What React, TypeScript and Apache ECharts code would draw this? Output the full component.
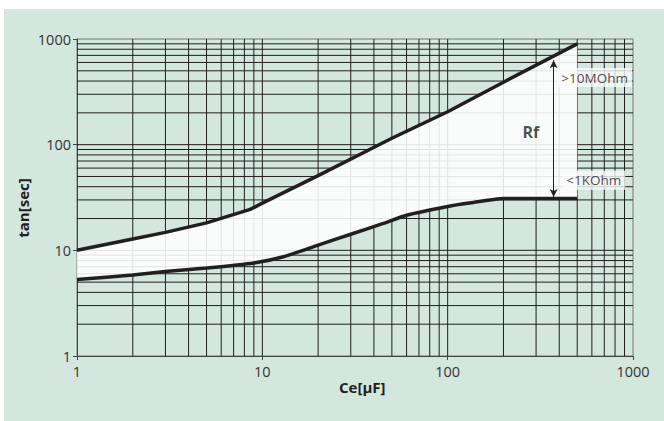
import React, { useEffect, useRef } from "react";
import * as echarts from "echarts";

// Capacitance Ce [µF] vs time tan [sec]
const UPPER: [number, number][] = [
  [1, 10], [2, 12.8], [3, 14.8], [5, 18.2], [8.6, 24.4], [10, 28], [20, 51],
  [50, 115], [100, 205], [200, 390], [500, 900],
];
const LOWER: [number, number][] = [
  [1, 5.3], [2, 5.85], [3, 6.3], [5, 6.8], [9, 7.6], [13, 8.7], [20, 11.2],
  [30, 14.2], [45, 18], [60, 21.5], [100, 26], [130, 28], [200, 31], [500, 31],
];
const X_GRID = [2, 3, 4, 5, 6, 7, 8, 9, 10, 20, 30, 40, 50, 60, 70, 80, 90, 100, 200, 300, 400, 500, 600, 700, 800, 900];
const Y_GRID = [2, 3, 4, 5, 6, 7, 8, 9, 10, 20, 30, 40, 50, 60, 70, 80, 90, 100, 200, 300, 400, 500, 600, 700, 800, 900];
const ARROW_X = 373;
const ARROW_Y: [number, number] = [631, 32];
const LABELS: [number, number, string][] = [
  [621, 431, ">10MOhm"],
  [614, 46, "<1KOhm"],
];
const RF_LABEL: [number, number, string] = [281, 133, "Rf"];
const X_TITLE = "Ce[μF]";
const Y_TITLE = "tan[sec]";

const FONT = "'Open Sans', 'Noto Sans', sans-serif";
const INK = "#231f20";

export default function App() {
  const ref = useRef<HTMLDivElement>(null);
  useEffect(() => {
    document.body.style.margin = "0";
    const chart = echarts.init(ref.current!, null, { renderer: "svg" });
    const gridLine = (vertical: boolean) => (params: any, api: any) => {
      const v = api.value(vertical ? 0 : 1);
      const a = vertical ? api.coord([v, 1]) : api.coord([1, v]);
      const b = vertical ? api.coord([v, 1000]) : api.coord([1000, v]);
      return {
        type: "line",
        shape: { x1: a[0], y1: a[1], x2: b[0], y2: b[1] },
        style: { stroke: "#1e1e1e", lineWidth: 1 },
      };
    };
    chart.setOption({
      animation: false,
      backgroundColor: "transparent",
      grid: {
        left: 77, right: 31, top: 39, bottom: 65,
        show: true, backgroundColor: "#d3e7df", borderColor: "#777", borderWidth: 1,
      },
      xAxis: {
        type: "log", logBase: 10, min: 1, max: 1000,
        axisLine: { show: true, onZero: false, lineStyle: { color: "#444", width: 1 } },
        axisTick: { show: true, length: 4, lineStyle: { color: "#444" } },
        splitLine: { show: false },
        axisLabel: { color: "#333", fontSize: 14.5, fontFamily: FONT, margin: 8, formatter: (v: number) => String(Math.round(v)) },
      },
      yAxis: {
        type: "log", logBase: 10, min: 1, max: 1000,
        axisLine: { show: true, onZero: false, lineStyle: { color: "#444", width: 1 } },
        axisTick: { show: true, length: 4, lineStyle: { color: "#444" } },
        splitLine: { show: false },
        axisLabel: { color: "#333", fontSize: 14.5, fontFamily: FONT, margin: 6, formatter: (v: number) => String(Math.round(v)) },
      },
      graphic: [
        {
          type: "text", left: 339, top: 379,
          style: { text: X_TITLE, font: `bold 15px ${FONT}`, fill: INK },
        },
        {
          type: "text", x: 23, y: 208, rotation: Math.PI / 2,
          style: { text: Y_TITLE, font: `bold 15px ${FONT}`, fill: INK, align: "center", verticalAlign: "middle" },
        },
      ],
      series: [
        {
          type: "custom", z: 1, silent: true,
          data: X_GRID.map((x) => [x, 1]),
          renderItem: gridLine(true),
        },
        {
          type: "custom", z: 1, silent: true,
          data: Y_GRID.map((y) => [1, y]),
          renderItem: gridLine(false),
        },
        {
          type: "custom", z: 2, silent: true,
          data: [[1, 1]],
          renderItem: (params: any, api: any) => {
            const pts = [
              ...UPPER.map((p) => api.coord(p)),
              ...LOWER.slice().reverse().map((p) => api.coord(p)),
            ];
            return {
              type: "polygon",
              shape: { points: pts },
              style: { fill: "#ffffff", opacity: 0.88 },
            };
          },
        },
        {
          type: "line", z: 3, data: UPPER, symbol: "none",
          lineStyle: { color: INK, width: 3.5 },
        },
        {
          type: "line", z: 3, data: LOWER, symbol: "none", smooth: 0.2,
          lineStyle: { color: INK, width: 3.5 },
          markLine: {
            silent: true, symbol: ["arrow", "arrow"], symbolSize: [6, 8],
            label: { show: false },
            lineStyle: { color: INK, width: 1, type: "solid" },
            data: [[{ coord: [ARROW_X, ARROW_Y[0]] }, { coord: [ARROW_X, ARROW_Y[1]] }]],
          },
        },
        {
          type: "scatter", z: 4, symbolSize: 0, silent: true,
          data: LABELS,
          label: {
            show: true, position: "inside", formatter: (p: any) => p.data[2],
            backgroundColor: "#fafafa", padding: [3, 4, 2, 4],
            color: "#222", fontSize: 13.5, fontFamily: FONT,
          },
        },
        {
          type: "scatter", z: 4, symbolSize: 0, silent: true,
          data: [RF_LABEL],
          label: {
            show: true, position: "inside", formatter: (p: any) => p.data[2],
            color: INK, fontSize: 16, fontWeight: "bold", fontFamily: FONT,
          },
        },
      ],
    });
    return () => chart.dispose();
  }, []);
  return (
    <div style={{ position: "relative", width: 664, height: 421, background: "#fff" }}>
      <div style={{ position: "absolute", left: 4, top: 9, width: 660, height: 412, background: "#d3e7df" }} />
      <div ref={ref} style={{ position: "absolute", left: 0, top: 0, width: 664, height: 421 }} />
    </div>
  );
}
